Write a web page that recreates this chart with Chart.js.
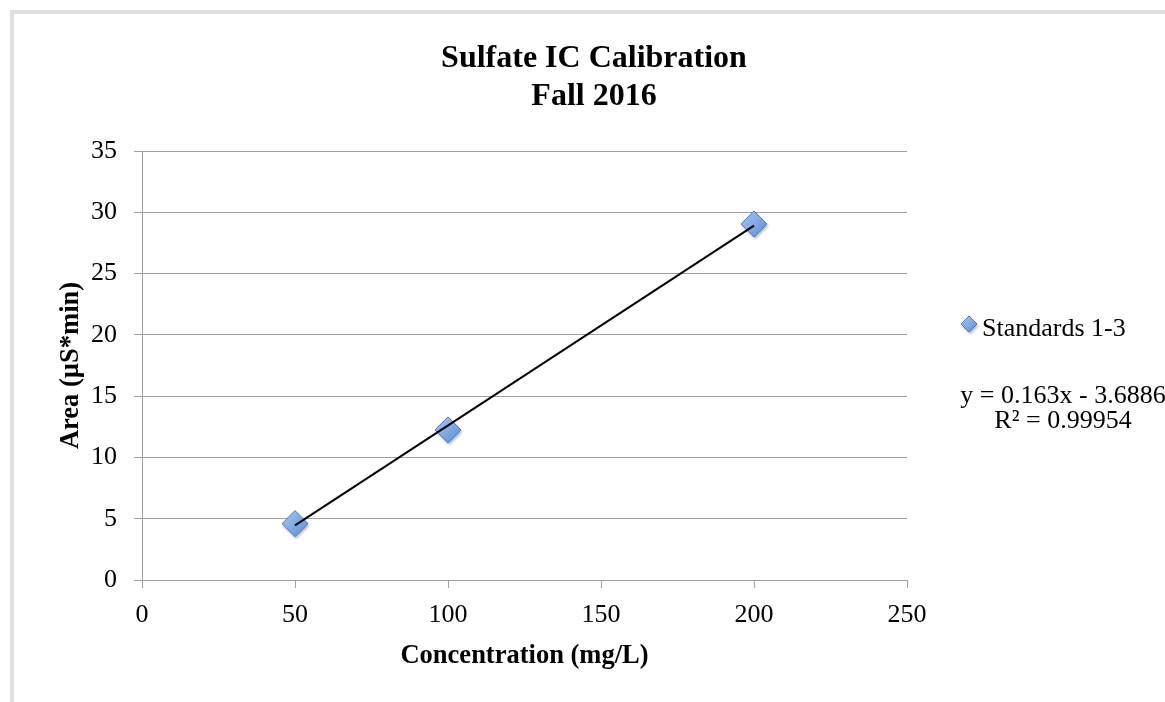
<!DOCTYPE html>
<html>
<head>
<meta charset="utf-8">
<script src="https://cdn.jsdelivr.net/npm/chart.js@4.4.1/dist/chart.umd.min.js"></script>
<style>
  html, body { margin: 0; padding: 0; background: #fff; }
  #wrap { width: 1165px; height: 702px; }
</style>
</head>
<body>
<div id="wrap"><canvas id="sulfate_calibration"></canvas></div>
<script>
const titleLines = ['Sulfate IC Calibration', 'Fall 2016'];
const xTitle = 'Concentration (mg/L)';
const yTitle = 'Area (µS*min)';
const seriesLabel = 'Standards 1-3';

// standards
const concentration = [50, 100, 200];
const area = [4.6, 12.25, 29.05];

// linear trendline end points and its label
const trendX = [50, 200];
const trendY = [4.46, 28.91];
const equationLines = ['y = 0.163x - 3.6886', 'R² = 0.99954'];

const serif = '"Liberation Serif", "Times New Roman", serif';
const gridColor = '#a0a0a0';

function makeDiamond(r) {
  const pad = 5;
  const c = document.createElement('canvas');
  c.width = c.height = 2 * (r + pad);
  const g = c.getContext('2d');
  const m = r + pad;
  g.save();
  g.shadowColor = 'rgba(0,0,0,0.35)';
  g.shadowBlur = 3;
  g.shadowOffsetX = 1;
  g.shadowOffsetY = 2;
  g.beginPath();
  g.moveTo(m, m - r);
  g.lineTo(m + r, m);
  g.lineTo(m, m + r);
  g.lineTo(m - r, m);
  g.closePath();
  const grad = g.createLinearGradient(m - r, m - r, m + r, m + r);
  grad.addColorStop(0, '#a9c9f1');
  grad.addColorStop(1, '#5a8ed4');
  g.fillStyle = grad;
  g.fill();
  g.restore();
  g.strokeStyle = '#4a7cc0';
  g.lineWidth = 1;
  g.stroke();
  return c;
}

const bigDiamond = makeDiamond(13);
const smallDiamond = makeDiamond(8);

const decor = {
  id: 'decor',
  beforeDraw(chart) {
    const ctx = chart.ctx;
    ctx.save();
    ctx.fillStyle = '#fff';
    ctx.fillRect(0, 0, chart.width, chart.height);
    ctx.strokeStyle = '#e0e0e0';
    ctx.lineWidth = 4;
    ctx.strokeRect(12, 12, chart.width + 20, chart.height + 20);
    ctx.restore();
  },
  afterDraw(chart) {
    const ctx = chart.ctx;
    ctx.save();
    ctx.fillStyle = '#000';
    ctx.textAlign = 'center';
    ctx.textBaseline = 'alphabetic';
    ctx.font = 'bold 32px ' + serif;
    ctx.fillText(titleLines[0], 594, 67);
    ctx.fillText(titleLines[1], 594, 105);

    // legend
    ctx.drawImage(smallDiamond, 969 - smallDiamond.width / 2, 324 - smallDiamond.height / 2);
    ctx.textAlign = 'left';
    ctx.font = '26px ' + serif;
    ctx.fillText(chart.data.datasets[1].label, 982, 336);

    // trendline equation
    ctx.textAlign = 'center';
    ctx.fillText(equationLines[0], 1063, 403);
    ctx.fillText(equationLines[1], 1063, 428);
    ctx.restore();
  }
};

const ctx = document.getElementById('sulfate_calibration');

new Chart(ctx, {
  type: 'scatter',
  data: {
    datasets: [
      {
        type: 'line',
        label: 'Linear (' + seriesLabel + ')',
        data: trendX.map((x, i) => ({ x: x, y: trendY[i] })),
        borderColor: '#000',
        borderWidth: 2,
        pointRadius: 0,
        fill: false,
        order: 0
      },
      {
        label: seriesLabel,
        data: concentration.map((x, i) => ({ x: x, y: area[i] })),
        pointStyle: bigDiamond,
        pointRadius: 13,
        order: 1
      }
    ]
  },
  options: {
    responsive: true,
    maintainAspectRatio: false,
    animation: false,
    events: [],
    layout: { padding: { left: 10, right: 258, top: 151, bottom: 0 } },
    plugins: {
      legend: { display: false },
      title: { display: false },
      tooltip: { enabled: false }
    },
    scales: {
      x: {
        type: 'linear',
        min: 0,
        max: 250,
        afterFit: s => { s.height = 122; },
        ticks: { stepSize: 50, color: '#000', padding: 12, font: { family: serif, size: 26 } },
        grid: { drawOnChartArea: false, drawTicks: true, tickLength: 8, color: gridColor },
        border: { display: true, color: gridColor },
        title: {
          display: true,
          text: xTitle,
          color: '#000',
          padding: { top: 0, bottom: 30 },
          font: { family: serif, size: 26.5, weight: 'bold' }
        }
      },
      y: {
        min: 0,
        max: 35,
        afterFit: s => { s.width = 132; },
        ticks: { stepSize: 5, color: '#000', padding: 17, font: { family: serif, size: 26 } },
        grid: { drawOnChartArea: true, drawTicks: true, tickLength: 8, color: gridColor },
        border: { display: true, color: gridColor },
        title: {
          display: true,
          text: yTitle,
          color: '#000',
          padding: { top: 45, bottom: 0 },
          font: { family: serif, size: 26.5, weight: 'bold' }
        }
      }
    }
  },
  plugins: [decor]
});
</script>
</body>
</html>
